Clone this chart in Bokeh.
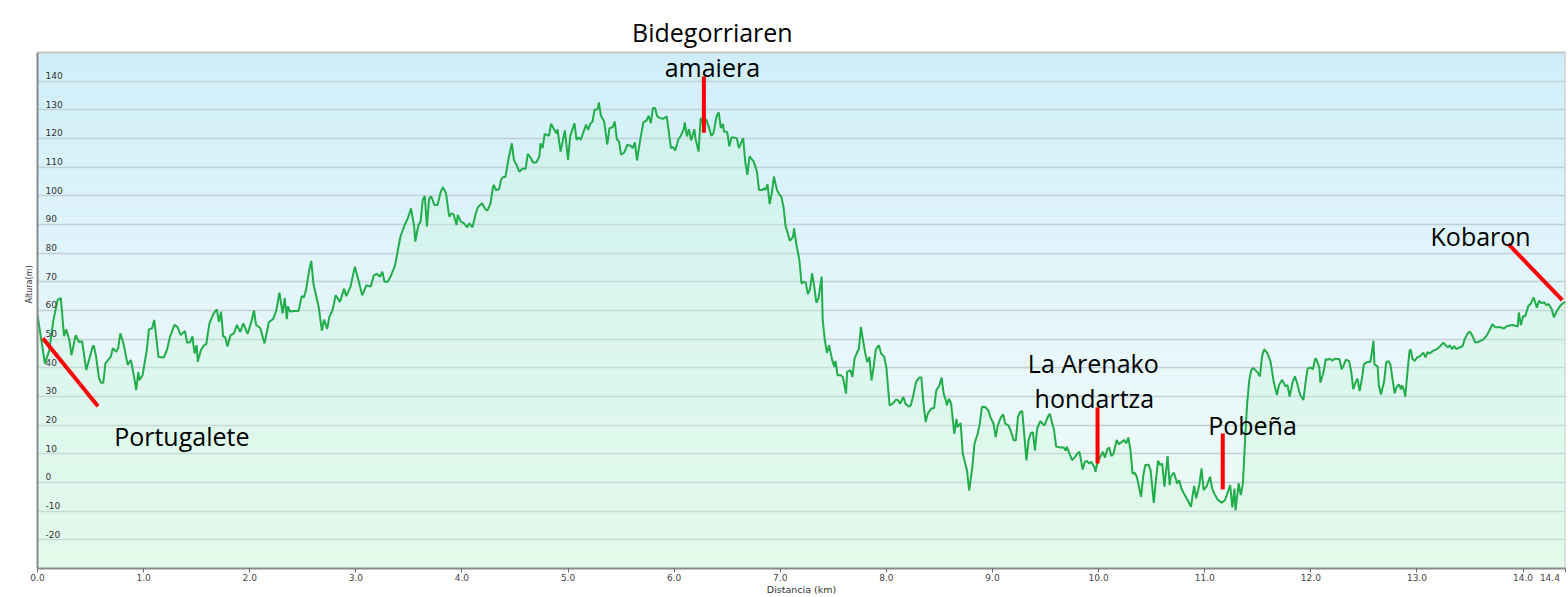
from bokeh.plotting import figure
from bokeh.models import Range1d, FixedTicker, Label, PrintfTickFormatter
from bokeh.embed import file_html
from bokeh.resources import INLINE
from bokeh.core.properties import value

# ---------------- data ----------------
dist_km = [
    # 0 - 2.4 km
    0.00, 0.07, 0.11, 0.15, 0.19, 0.22, 0.25, 0.27, 0.30, 0.32,
    0.36, 0.39, 0.42, 0.46, 0.52, 0.53, 0.55, 0.58, 0.60, 0.62,
    0.64, 0.69, 0.71, 0.74, 0.76, 0.78, 0.81, 0.85, 0.88, 0.91,
    0.93, 0.95, 0.96, 0.99, 1.03, 1.05, 1.08, 1.10, 1.14, 1.19,
    1.22, 1.25, 1.29, 1.32, 1.35, 1.39, 1.41, 1.44, 1.46, 1.48,
    1.50, 1.51, 1.54, 1.57, 1.59, 1.62, 1.66, 1.69, 1.71, 1.73,
    1.75, 1.77, 1.79, 1.82, 1.85, 1.88, 1.91, 1.94, 1.98, 2.02,
    2.04, 2.06, 2.10, 2.14, 2.18, 2.22, 2.25, 2.28, 2.31, 2.33,
    2.35, 2.36, 2.38,
    # 2.4 - 4.8 km
    2.42, 2.46, 2.49, 2.51, 2.53, 2.56, 2.58, 2.60, 2.65, 2.68,
    2.70, 2.73, 2.75, 2.78, 2.81, 2.85, 2.89, 2.91, 2.95, 2.99,
    3.02, 3.06, 3.10, 3.14, 3.17, 3.20, 3.23, 3.25, 3.27, 3.30,
    3.33, 3.37, 3.42, 3.46, 3.49, 3.52, 3.55, 3.56, 3.59, 3.61,
    3.63, 3.65, 3.67, 3.69, 3.71, 3.74, 3.77, 3.80, 3.82, 3.85,
    3.88, 3.90, 3.92, 3.95, 3.96, 3.99, 4.02, 4.05, 4.07, 4.10,
    4.13, 4.15, 4.19, 4.22, 4.24, 4.27, 4.29, 4.30, 4.32, 4.35,
    4.37, 4.39, 4.41, 4.44, 4.47, 4.49, 4.51, 4.54, 4.57, 4.60,
    4.62, 4.65, 4.67, 4.70, 4.73, 4.74, 4.76, 4.78,
    # 4.8 - 7.1 km
    4.82, 4.84, 4.87, 4.89, 4.90, 4.93, 4.97, 5.00, 5.02, 5.06,
    5.08, 5.10, 5.12, 5.17, 5.19, 5.21, 5.23, 5.25, 5.28, 5.29,
    5.31, 5.34, 5.37, 5.39, 5.42, 5.44, 5.46, 5.48, 5.50, 5.53,
    5.56, 5.59, 5.61, 5.63, 5.65, 5.68, 5.71, 5.74, 5.76, 5.78,
    5.80, 5.82, 5.84, 5.87, 5.90, 5.93, 5.97, 5.99, 6.01, 6.04,
    6.06, 6.09, 6.10, 6.12, 6.14, 6.16, 6.19, 6.20, 6.23, 6.25,
    6.27, 6.30, 6.33, 6.35, 6.37, 6.40, 6.42, 6.44, 6.46, 6.47,
    6.50, 6.52, 6.54, 6.56, 6.59, 6.61, 6.65, 6.67, 6.69, 6.71,
    6.75, 6.78, 6.80, 6.83, 6.85, 6.86, 6.88, 6.90, 6.92, 6.94,
    6.97, 6.99, 7.01, 7.03, 7.05, 7.07, 7.09, 7.12, 7.13,
    # 7.1 - 9.5 km
    7.15, 7.18, 7.20, 7.22, 7.24, 7.26, 7.28, 7.30, 7.32, 7.34,
    7.36, 7.39, 7.40, 7.42, 7.44, 7.46, 7.49, 7.51, 7.52, 7.54,
    7.57, 7.59, 7.62, 7.63, 7.66, 7.68, 7.70, 7.73, 7.74, 7.76,
    7.78, 7.80, 7.82, 7.84, 7.86, 7.88, 7.90, 7.93, 7.95, 7.98,
    8.00, 8.03, 8.06, 8.09, 8.11, 8.13, 8.16, 8.18, 8.21, 8.23,
    8.25, 8.28, 8.31, 8.33, 8.35, 8.37, 8.39, 8.42, 8.45, 8.47,
    8.50, 8.52, 8.54, 8.56, 8.57, 8.59, 8.61, 8.64, 8.66, 8.67,
    8.70, 8.72, 8.76, 8.78, 8.81, 8.83, 8.86, 8.88, 8.90, 8.93,
    8.96, 8.98, 9.01, 9.03, 9.05, 9.08, 9.10, 9.12, 9.15, 9.17,
    9.20, 9.22, 9.24, 9.26, 9.28, 9.30, 9.32, 9.34, 9.36, 9.38,
    9.40, 9.42, 9.45, 9.47, 9.49, 9.52, 9.54,
    # 9.5 - 11.9 km
    9.58, 9.60, 9.64, 9.67, 9.69, 9.70, 9.73, 9.75, 9.78, 9.80,
    9.82, 9.85, 9.87, 9.89, 9.91, 9.93, 9.96, 9.97, 9.99, 10.02,
    10.04, 10.06, 10.08, 10.10, 10.12, 10.14, 10.17, 10.19, 10.21, 10.24,
    10.26, 10.28, 10.30, 10.32, 10.34, 10.36, 10.40, 10.42, 10.44, 10.47,
    10.49, 10.52, 10.54, 10.56, 10.58, 10.60, 10.62, 10.65, 10.67, 10.68,
    10.71, 10.74, 10.76, 10.78, 10.80, 10.84, 10.87, 10.90, 10.92, 10.95,
    10.97, 10.99, 11.02, 11.05, 11.07, 11.09, 11.12, 11.16, 11.19, 11.21,
    11.24, 11.26, 11.28, 11.29, 11.32, 11.34, 11.36, 11.38, 11.40, 11.42,
    11.44, 11.46, 11.50, 11.52, 11.54, 11.56, 11.59, 11.62, 11.65, 11.68,
    11.70, 11.73, 11.76, 11.78, 11.80, 11.83, 11.85, 11.87, 11.90,
    # 11.9 - 14.4 km
    11.93, 11.95, 11.97, 12.00, 12.02, 12.04, 12.05, 12.08, 12.09, 12.12,
    12.14, 12.16, 12.18, 12.20, 12.23, 12.27, 12.29, 12.31, 12.33, 12.36,
    12.38, 12.40, 12.42, 12.44, 12.46, 12.48, 12.50, 12.53, 12.56, 12.57,
    12.59, 12.60, 12.63, 12.64, 12.66, 12.69, 12.71, 12.73, 12.75, 12.77,
    12.79, 12.81, 12.83, 12.85, 12.86, 12.88, 12.89, 12.91, 12.93, 12.94,
    12.96, 12.98, 13.00, 13.03, 13.06, 13.08, 13.10, 13.12, 13.15, 13.17,
    13.19, 13.22, 13.25, 13.27, 13.29, 13.31, 13.33, 13.35, 13.37, 13.40,
    13.43, 13.45, 13.48, 13.50, 13.52, 13.55, 13.58, 13.63, 13.66, 13.69,
    13.71, 13.74, 13.79, 13.82, 13.85, 13.90, 13.95, 13.96, 13.98, 14.00,
    14.02, 14.05, 14.07, 14.10, 14.13, 14.15, 14.17, 14.20, 14.22, 14.24,
    14.27, 14.29, 14.32, 14.35, 14.38, 14.40,
]

alt_m = [
    # 0 - 2.4 km
    58.4, 41.5, 46.0, 56.7, 63.7, 64.3, 51.0, 53.4, 49.7, 44.4,
    51.4, 49.0, 49.3, 39.2, 47.4, 47.8, 44.4, 36.3, 34.8, 34.8,
    41.5, 43.8, 46.8, 45.6, 46.8, 52.0, 48.5, 41.0, 42.7, 36.9,
    32.2, 38.6, 35.7, 37.4, 46.2, 53.4, 53.8, 56.7, 43.8, 43.6,
    46.2, 51.0, 55.0, 54.2, 51.4, 52.8, 48.7, 49.0, 51.0, 45.0,
    47.9, 42.1, 46.2, 47.9, 48.2, 55.5, 59.0, 60.4, 56.0, 59.5,
    51.0, 50.6, 47.4, 51.4, 52.0, 55.0, 52.5, 55.5, 51.8, 56.7,
    60.0, 55.0, 53.8, 48.5, 55.9, 57.0, 59.9, 66.2, 59.0, 64.3,
    57.0, 61.4, 59.6,
    # 2.4 - 4.8 km
    59.8, 59.8, 65.0, 64.5, 67.0, 74.0, 77.3, 69.4, 61.2, 53.0,
    56.8, 53.6, 57.7, 60.0, 65.3, 63.0, 67.6, 65.0, 68.3, 75.2,
    71.2, 65.3, 68.8, 68.3, 72.3, 72.7, 71.8, 73.5, 70.0, 70.0,
    72.0, 75.8, 85.7, 89.8, 92.1, 95.6, 89.2, 84.0, 89.8, 91.0,
    98.5, 99.9, 89.2, 98.8, 99.8, 96.8, 96.8, 101.4, 103.0, 100.9,
    92.7, 93.8, 93.6, 89.8, 93.3, 91.0, 90.4, 89.0, 90.4, 89.0,
    93.8, 96.0, 97.4, 95.3, 94.8, 97.4, 102.6, 103.8, 102.0, 102.3,
    105.8, 106.5, 106.5, 113.1, 118.3, 112.5, 111.1, 108.4, 109.4, 109.4,
    114.6, 113.1, 111.6, 111.6, 113.7, 118.3, 116.6, 121.6,
    # 4.8 - 7.1 km
    120.9, 125.1, 123.0, 121.8, 123.2, 115.4, 122.8, 112.5, 120.7, 125.3,
    119.5, 120.4, 119.5, 124.8, 123.0, 125.1, 125.8, 130.0, 130.2, 132.6,
    127.9, 125.9, 117.8, 123.6, 123.9, 125.9, 119.7, 118.9, 114.3, 115.1,
    117.8, 117.4, 116.6, 118.6, 112.3, 119.5, 125.6, 126.3, 127.9, 125.3,
    130.6, 130.6, 127.7, 127.0, 126.9, 127.7, 116.6, 117.0, 115.8, 119.7,
    120.7, 123.2, 125.6, 120.7, 123.2, 119.3, 123.2, 120.1, 115.4, 127.1,
    125.3, 126.7, 123.6, 120.9, 121.8, 127.7, 129.1, 123.6, 125.0, 122.4,
    122.2, 117.2, 120.3, 120.3, 120.1, 116.6, 120.1, 111.9, 107.3, 113.7,
    111.9, 108.4, 102.0, 102.0, 102.6, 102.0, 104.1, 97.1, 100.9, 106.7,
    101.8, 100.6, 99.7, 96.2, 89.4, 86.9, 84.3, 85.7, 88.6,
    # 7.1 - 9.5 km
    83.4, 77.6, 69.4, 70.0, 69.7, 65.7, 67.4, 72.9, 68.3, 62.7,
    64.2, 71.8, 56.6, 49.6, 45.2, 47.9, 42.6, 40.3, 42.4, 37.4,
    37.4, 36.8, 31.0, 38.6, 39.2, 36.8, 43.2, 45.9, 46.4, 54.3,
    49.6, 45.2, 42.0, 43.8, 35.6, 40.3, 46.4, 47.9, 45.0, 43.8,
    40.1, 26.9, 27.5, 28.9, 28.7, 27.5, 29.8, 27.5, 26.5, 26.9,
    29.8, 35.1, 36.6, 36.6, 27.5, 21.1, 24.0, 25.7, 26.0, 32.1,
    33.9, 36.6, 31.0, 28.7, 26.9, 29.2, 27.5, 17.0, 22.2, 19.3,
    20.7, 10.0, 4.2, -2.8, 5.4, 13.5, 17.0, 20.5, 26.3, 26.3,
    25.2, 22.8, 20.5, 15.8, 19.9, 22.8, 23.8, 20.5, 19.9, 18.2,
    14.7, 14.7, 22.8, 24.6, 24.9, 16.4, 7.7, 14.7, 17.2, 17.6,
    11.2, 18.7, 21.4, 20.5, 19.9, 22.8, 24.0,
    # 9.5 - 11.9 km
    18.3, 12.5, 12.2, 12.2, 11.1, 12.5, 9.6, 7.8, 9.0, 10.1,
    10.7, 4.5, 7.2, 7.5, 6.6, 7.2, 5.5, 3.7, 7.2, 9.2,
    10.7, 8.7, 11.5, 12.2, 9.2, 9.9, 14.8, 13.4, 13.9, 14.8,
    13.6, 15.7, 11.3, 3.1, 3.4, 2.0, -5.0, 2.2, 6.1, 6.2,
    4.3, -7.1, 0.8, 7.6, 6.1, 6.6, -1.5, 9.2, -0.9, 2.0,
    3.4, -0.3, 0.8, -2.1, -3.6, -6.2, -8.5, -1.2, -5.5, -0.6,
    4.9, -2.7, -1.2, 2.0, -2.1, -3.8, -5.9, -7.1, -6.2, -4.1,
    -0.9, -8.7, -2.1, -9.7, -0.3, -4.4, -0.3, 14.8, 27.6, 35.8,
    39.3, 39.9, 38.3, 37.0, 43.9, 46.5, 45.1, 42.2, 35.2, 30.5,
    34.0, 35.8, 33.5, 34.0, 30.0, 35.2, 37.0, 34.7, 30.5,
    # 11.9 - 14.4 km
    28.8, 34.8, 39.7, 40.1, 39.5, 43.0, 43.2, 40.1, 34.8, 38.6,
    43.0, 42.8, 43.2, 42.5, 43.2, 43.0, 39.5, 40.9, 42.8, 42.4,
    38.9, 32.5, 34.8, 36.2, 31.9, 35.9, 41.2, 42.0, 42.0, 44.1,
    49.4, 41.2, 40.4, 34.2, 30.7, 35.1, 41.8, 42.4, 41.2, 36.0,
    31.1, 33.4, 34.2, 32.5, 33.9, 31.9, 29.9, 38.3, 45.9, 46.5,
    43.0, 42.4, 43.6, 44.1, 45.3, 43.6, 45.5, 45.0, 45.9, 46.2,
    46.5, 47.6, 48.8, 47.9, 47.1, 47.9, 46.5, 47.6, 46.5, 47.1,
    47.5, 50.0, 52.1, 52.6, 51.4, 48.8, 49.0, 50.0, 51.4, 53.5,
    55.2, 54.1, 54.1, 53.7, 54.6, 54.9, 54.4, 59.3, 54.9, 58.0,
    58.0, 61.6, 62.2, 64.5, 61.0, 63.4, 62.6, 62.8, 61.9, 62.2,
    60.5, 57.6, 59.9, 61.6, 62.6, 63.0,
]

assert len(dist_km) == len(alt_m), (len(dist_km), len(alt_m))

x_ticks = [0, 1, 2, 3, 4, 5, 6, 7, 8, 9, 10, 11, 12, 13, 14, 14.4]
y_ticks = [-20, -10, 0, 10, 20, 30, 40, 50, 60, 70, 80, 90, 100, 110, 120, 130, 140]
y_tick_labels = ["-20", "-10", "0", "10", "20", "30", "40", "50", "60",
                 "70", "80", "90", "100", "110", "120", "130", "140"]

# place annotations (text baseline positions) and red marker lines
ann_text = ["Bidegorriaren", "amaiera", "Portugalete", "La Arenako", "hondartza", "Pobeña", "Kobaron"]
ann_x = [6.36, 6.36, 1.36, 9.95, 9.96, 11.45, 13.60]
ann_y = [157.0, 144.8, 16.1, 41.6, 29.4, 19.9, 86.0]

mark_x0 = [6.28, 0.05, 9.99, 11.17, 13.86]
mark_y0 = [141.6, 50.3, 26.2, 17.1, 83.2]
mark_x1 = [6.28, 0.57, 9.99, 11.17, 14.37]
mark_y1 = [122.0, 26.6, 6.6, -2.4, 63.6]

X_MIN, X_MAX, Y_MIN, Y_MAX = 0, 14.4, -30, 150
Y_TOP = 168.1   # head room above the chart for the labels

# ---------------- figure ----------------
p = figure(width=1568, height=597,
           x_range=Range1d(X_MIN, X_MAX), y_range=Range1d(Y_MIN, Y_TOP),
           output_backend="svg", toolbar_location=None,
           min_border_left=37, min_border_right=3, min_border_top=0, min_border_bottom=0)
p.border_fill_color = "white"
p.background_fill_color = "white"
p.outline_line_color = None

# background vertical gradient of the chart area (decoration)
stops = [(-30, (238, 252, 242)), (40, (232, 247, 250)), (150, (207, 238, 249))]
nb = 90
bb, bt, bc = [], [], []
for i in range(nb):
    lo = Y_MIN + (Y_MAX - Y_MIN) * i / nb
    hi = Y_MIN + (Y_MAX - Y_MIN) * (i + 1) / nb
    mid = (lo + hi) / 2
    for (a, ca), (b, cb) in zip(stops[:-1], stops[1:]):
        if a <= mid <= b:
            t = (mid - a) / (b - a)
            c = tuple(int(round(ca[k] + (cb[k] - ca[k]) * t)) for k in range(3))
            break
    bb.append(lo)
    bt.append(min(hi + 0.05, Y_MAX))
    bc.append("#%02x%02x%02x" % c)
p.quad(left=X_MIN, right=X_MAX, bottom=bb, top=bt, fill_color=bc, line_color=None, level="image")

# chart frame (top and right edges)
p.segment(x0=[X_MIN, X_MAX], y0=[Y_MAX, Y_MIN], x1=[X_MAX, X_MAX], y1=[Y_MAX, Y_MAX],
          line_color="#c4c4c4", line_width=2, level="underlay")

# grid
p.xgrid.visible = False
p.ygrid.ticker = FixedTicker(ticks=y_ticks)
p.ygrid.grid_line_color = "#c3cfd7"
p.ygrid.grid_line_width = 1.6

# area + profile line
p.varea(x=dist_km, y1=Y_MIN, y2=alt_m, fill_color="#c8f5d8", fill_alpha=0.32)
p.line(dist_km, alt_m, line_color="#22ad4b", line_width=2)

# y tick labels drawn inside the plot, above gridlines
p.text(x=[X_MIN] * len(y_ticks), y=y_ticks, text=y_tick_labels,
       text_font=value("DejaVu Sans"), text_font_size=value("9px"),
       text_color="#333333", text_baseline="bottom", text_align="left",
       x_offset=8, y_offset=-2)

# axes
p.xaxis.ticker = FixedTicker(ticks=x_ticks)
p.xaxis.formatter = PrintfTickFormatter(format="%.1f")
p.xaxis.major_label_overrides = {14.4: "14.4\u00a0\u00a0\u00a0"}
p.xaxis.axis_label = "Distancia (km)"
p.xaxis.axis_label_text_font = "DejaVu Sans"
p.xaxis.axis_label_text_font_size = "9.5px"
p.xaxis.axis_label_text_font_style = "normal"
p.xaxis.axis_label_text_color = "#333333"
p.xaxis.axis_label_standoff = -2
p.xaxis.major_label_text_font = "DejaVu Sans"
p.xaxis.major_label_text_font_size = "9px"
p.xaxis.major_label_text_color = "#444444"
p.xaxis.major_label_standoff = 0
p.xaxis.axis_line_color = "#8a8a8a"
p.xaxis.axis_line_width = 2
p.xaxis.major_tick_line_color = "#6a6a6a"
p.xaxis.major_tick_out = 4
p.xaxis.major_tick_in = 0
p.xaxis.minor_tick_line_color = None

p.yaxis.bounds = (Y_MIN, Y_MAX)
p.yaxis.ticker = FixedTicker(ticks=[])
p.yaxis.major_label_text_font_size = "0px"
p.yaxis.axis_label = "Altura(m)"
p.yaxis.axis_label_text_font = "DejaVu Sans"
p.yaxis.axis_label_text_font_size = "8px"
p.yaxis.axis_label_text_font_style = "normal"
p.yaxis.axis_label_text_color = "#333333"
p.yaxis.axis_label_standoff = 4
p.yaxis.axis_line_color = "#8a8a8a"
p.yaxis.axis_line_width = 2
p.yaxis.major_tick_line_color = None
p.yaxis.minor_tick_line_color = None

# red marker lines
p.segment(x0=mark_x0, y0=mark_y0, x1=mark_x1, y1=mark_y1, line_color="#ff0000", line_width=4)

# place-name labels
for t, x, y in zip(ann_text, ann_x, ann_y):
    p.add_layout(Label(x=x, y=y, text=t, text_align="center", text_baseline="alphabetic",
                       text_font="Open Sans", text_font_size="25px", text_color="#000000"))

open("out.html", "w").write(file_html(p, INLINE))
